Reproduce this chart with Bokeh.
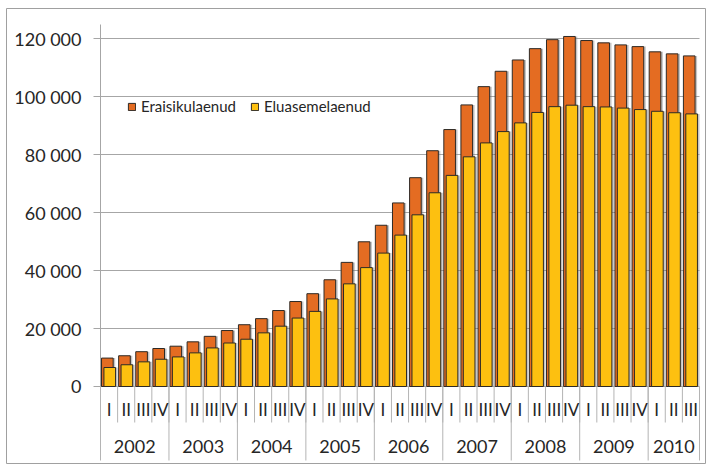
import numpy as np
from bokeh.plotting import figure
from bokeh.models import Range1d, Legend, LegendItem, ColumnDataSource
from bokeh.core.properties import value
from bokeh.embed import file_html
from bokeh.resources import INLINE

# ---- data ----
years = ["2002", "2003", "2004", "2005", "2006", "2007", "2008", "2009", "2010"]
quarters = ["I", "II", "III", "IV"] * 8 + ["I", "II", "III"]
eraisikulaenud = [9800, 10600, 12000, 13100, 13900, 15400, 17300, 19300, 21300, 23400,
                  26200, 29300, 32000, 36800, 42800, 49900, 55600, 63300, 72000, 81300,
                  88600, 97100, 103400, 108700, 112600, 116500, 119600, 120700, 119300,
                  118500, 117800, 117200, 115400, 114700, 114000]
eluasemelaenud = [6550, 7500, 8500, 9400, 10200, 11600, 13300, 15000, 16300, 18500,
                  20800, 23600, 25900, 30200, 35400, 41000, 46000, 52200, 59200, 66800,
                  72800, 79200, 84000, 87900, 90900, 94500, 96500, 97000, 96500,
                  96400, 96000, 95500, 94900, 94400, 94000]
y_ticks = [0, 20000, 40000, 60000, 80000, 100000, 120000]
y_tick_labels = [f"{v:,}".replace(",", " ") for v in y_ticks]

FONT = "Lato"
TXT = "#262626"
GRID = "#a6a6a6"
SEP = "#b4b4b4"
ORANGE = "#E46C22"
YELLOW = "#FDC010"
EDGE = "#2e2a26"

n = len(quarters)
W, H = 706, 464
FL, FT, FR, FB = 6, 8, 705, 463          # outer frame (page px)
AX_X, BASE_Y = 100, 386                  # axis origin (page px)
cw = (699 - AX_X) / n                    # px per category
py = 120000 / (BASE_Y - 38)              # data units per px (vertical)

def xd(px_):
    return (px_ - AX_X) / cw

def yd(px_):
    return (BASE_Y - px_) * py

p = figure(width=W, height=H, output_backend="svg", toolbar_location=None,
           x_range=Range1d(xd(FL), xd(FR)), y_range=Range1d(yd(FB), yd(FT)),
           min_border_left=FL, min_border_right=W - FR, min_border_top=FT,
           min_border_bottom=H - FB)
p.axis.visible = False
p.grid.visible = False
p.outline_line_color = "#a0a0a0"
p.outline_line_width = 1

# gridlines, y axis, ticks
x_tick = xd(93)
p.segment(x0=x_tick, x1=n, y0=y_ticks, y1=y_ticks, line_color=GRID, line_width=1)
p.segment(x0=0, x1=0, y0=0, y1=yd(24), line_color=GRID, line_width=1)
p.text(x=xd(81), y=y_ticks, text=y_tick_labels, text_align="right", text_baseline="middle",
       text_font=value(FONT), text_font_size="18px", text_color=TXT)

idx = np.arange(n) + 0.5
src = ColumnDataSource(dict(
    xo=idx - 0.10, xos=idx + 0.02, xy=idx + 0.04, xys=idx + 0.16,
    tot=eraisikulaenud, hou=eluasemelaenud))

w = 0.68
p.vbar(x="xos", top="tot", width=w, source=src, fill_color="#7f7f7f", fill_alpha=0.45, line_color=None)
r_or = p.vbar(x="xo", top="tot", width=w, source=src, fill_color=ORANGE, line_color=EDGE, line_width=1)
p.vbar(x="xys", top="hou", width=w, source=src, fill_color="#7f7f7f", fill_alpha=0.45, line_color=None)
r_ye = p.vbar(x="xy", top="hou", width=w, source=src, fill_color=YELLOW, line_color=EDGE, line_width=1)

# category axis (quarters / years)
q_bounds = np.arange(n + 1)
p.segment(x0=q_bounds, x1=q_bounds, y0=0, y1=yd(422), line_color=SEP, line_width=1)
y_bounds = list(range(0, n, 4)) + [n]
p.segment(x0=y_bounds, x1=y_bounds, y0=0, y1=yd(460), line_color=SEP, line_width=1)

p.text(x=idx, y=yd(409), text=quarters, text_align="center", text_baseline="middle",
       text_font=value(FONT), text_font_size="17px", text_color=TXT)
yc = [(y_bounds[i] + y_bounds[i + 1]) / 2 for i in range(len(years))]
p.text(x=yc, y=yd(446), text=years, text_align="center", text_baseline="middle",
       text_font=value(FONT), text_font_size="18px", text_color=TXT)

legend = Legend(items=[LegendItem(label="Eraisikulaenud", renderers=[r_or]),
                       LegendItem(label="Eluasemelaenud", renderers=[r_ye])],
                location=(121, 348), orientation="horizontal", glyph_width=9, glyph_height=9,
                label_text_font=FONT, label_text_font_size="15px", label_text_color=TXT,
                label_standoff=5, spacing=14, padding=8, margin=0,
                border_line_color=None, background_fill_color="white", background_fill_alpha=1)
p.add_layout(legend)

open("out.html", "w").write(file_html(p, INLINE))
